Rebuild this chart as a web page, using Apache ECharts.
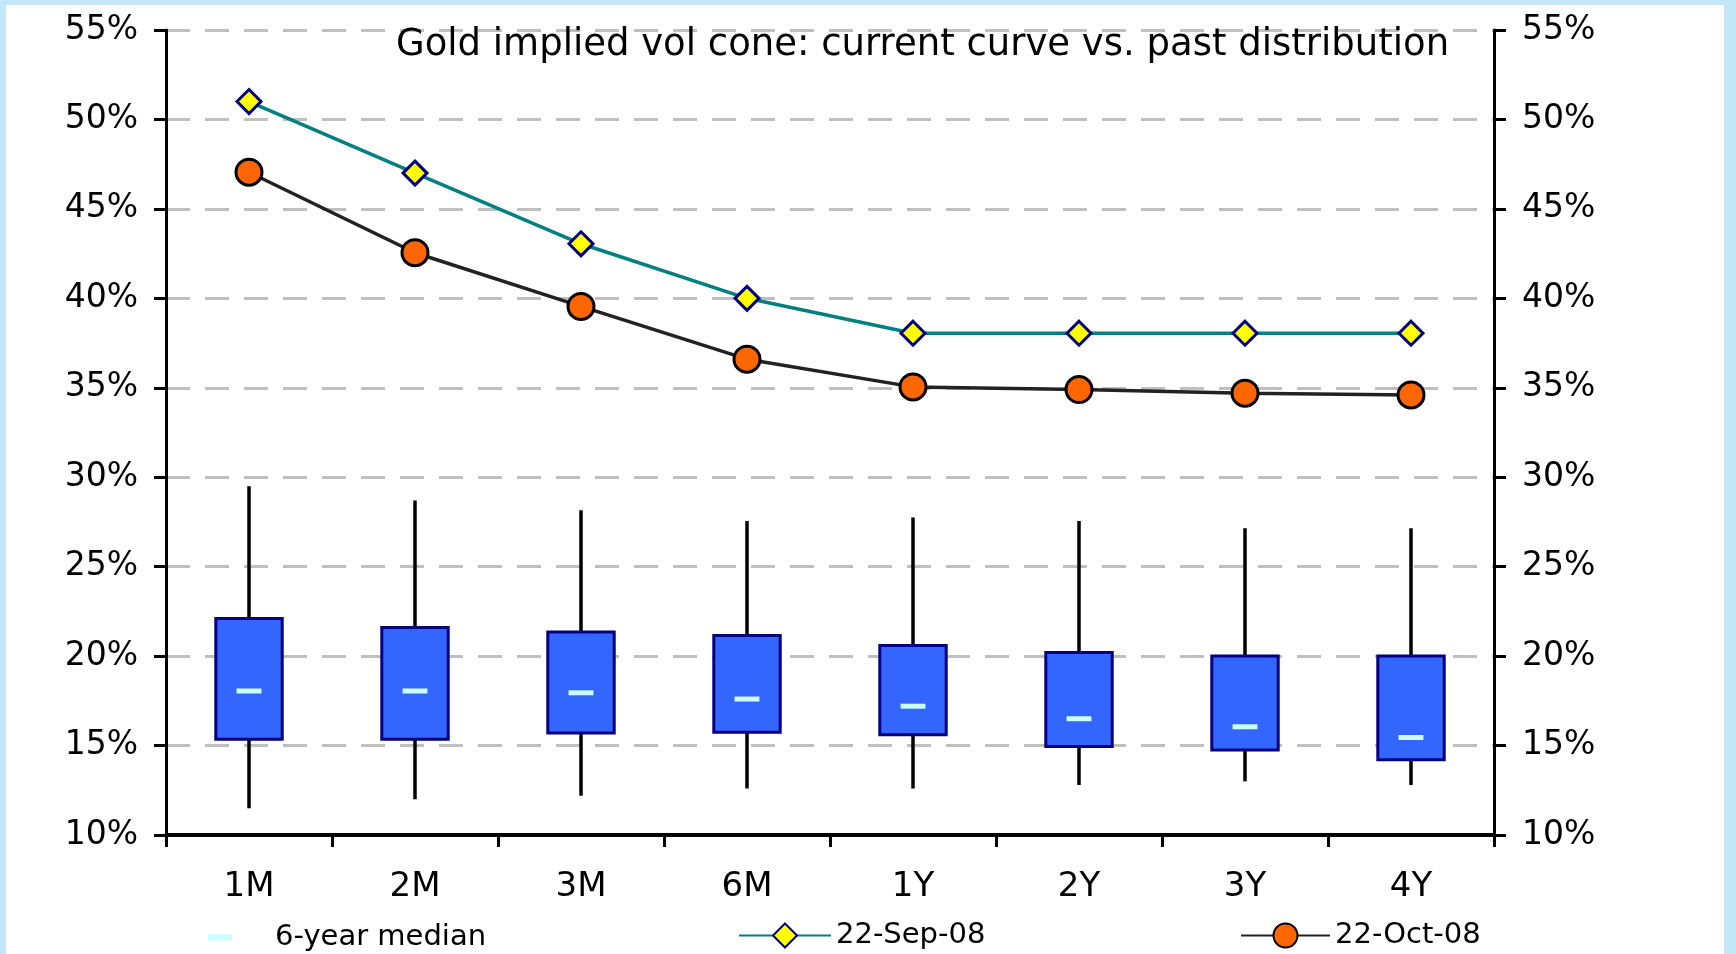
<!DOCTYPE html>
<html>
<head>
<meta charset="utf-8">
<script src="https://cdn.jsdelivr.net/npm/echarts@6/dist/echarts.min.js"></script>
<style>
html,body{margin:0;padding:0;width:1736px;height:954px;background:#C2E8F8;overflow:hidden;}
#chart{position:absolute;left:6px;top:5px;width:1718px;height:949px;background:#ffffff;}
</style>
</head>
<body>
<div id="chart"></div>
<script>
// ---- data ----
const tenors = ['1M','2M','3M','6M','1Y','2Y','3Y','4Y'];
const distMin    = [11.5, 12.0, 12.2, 12.6, 12.6, 12.8, 13.0, 12.8];
const distQ1     = [15.35, 15.35, 15.7, 15.75, 15.6, 14.95, 14.75, 14.2];
const distMedian = [18.05, 18.05, 17.95, 17.6, 17.2, 16.5, 16.05, 15.45];
const distQ3     = [22.1, 21.6, 21.35, 21.15, 20.6, 20.2, 20.0, 20.0];
const distMax    = [29.5, 28.7, 28.15, 27.55, 27.75, 27.55, 27.15, 27.15];
const sep08 = [51.0, 47.0, 43.05, 40.0, 38.05, 38.05, 38.05, 38.05];
const oct08 = [47.05, 42.55, 39.55, 36.6, 35.05, 34.9, 34.7, 34.6];
const yTicks = { min: 10, max: 55, step: 5 };
const titleText = 'Gold implied vol cone: current curve vs. past distribution';
const legendNames = ['6-year median', '22-Sep-08', '22-Oct-08'];

const FONT = 'DejaVu Sans';
const boxData = tenors.map((t, i) => [i, distMin[i], distQ1[i], distMedian[i], distQ3[i], distMax[i]]);

function renderBox(params, api) {
  const x = api.value(0);
  const pMin = api.coord([x, api.value(1)]);
  const pQ1 = api.coord([x, api.value(2)]);
  const pMed = api.coord([x, api.value(3)]);
  const pQ3 = api.coord([x, api.value(4)]);
  const pMax = api.coord([x, api.value(5)]);
  const band = api.size([1, 0])[0];
  const bw = band * 0.4;
  const mw = band * 0.15;
  return {
    type: 'group',
    children: [
      { type: 'line', shape: { x1: pMin[0], y1: pMin[1], x2: pMax[0], y2: pMax[1] }, style: { stroke: '#000', lineWidth: 3.5 } },
      { type: 'rect', shape: { x: pQ3[0] - bw / 2, y: pQ3[1], width: bw, height: pQ1[1] - pQ3[1] }, style: { fill: '#3366FF', stroke: '#000080', lineWidth: 3 } },
      { type: 'rect', shape: { x: pMed[0] - mw / 2, y: pMed[1] - 2.5, width: mw, height: 5 }, style: { fill: '#CCFFFF' } }
    ]
  };
}

const axisLabelStyle = { color: '#000', fontFamily: FONT, fontSize: 33 };
const legendText = { color: '#000', fontFamily: FONT, fontSize: 29 };
const chart = echarts.init(document.getElementById('chart'), null, { renderer: 'canvas' });
chart.setOption({
  animation: false,
  backgroundColor: '#ffffff',
  title: {
    text: titleText, left: 385, top: 17,
    textStyle: { color: '#000', fontFamily: FONT, fontSize: 37, fontWeight: 'normal' }
  },
  legend: [
    { data: [{ name: legendNames[0], icon: 'rect' }], left: 197, top: 913, itemWidth: 24, itemHeight: 6, itemGap: 0,
      textStyle: Object.assign({ padding: [0, 0, 0, 38] }, legendText) },
    { data: [legendNames[1]], left: 727, top: 911, itemWidth: 92, itemHeight: 30,
      textStyle: legendText },
    { data: [legendNames[2]], left: 1229, top: 911, itemWidth: 89, itemHeight: 30,
      textStyle: legendText }
  ],
  grid: { left: 160, right: 230, top: 25, bottom: 119, containLabel: false },
  xAxis: {
    type: 'category', data: tenors, boundaryGap: true,
    axisLine: { lineStyle: { color: '#000', width: 4 } },
    axisTick: { show: true, length: 12, lineStyle: { color: '#000', width: 3 } },
    axisLabel: Object.assign({ margin: 35 }, axisLabelStyle, { fontSize: 34 }),
    splitLine: { show: false }
  },
  yAxis: [
    { type: 'value', min: yTicks.min, max: yTicks.max, interval: yTicks.step, position: 'left',
      axisLine: { show: true, lineStyle: { color: '#000', width: 3 } },
      axisTick: { show: true, length: 12, lineStyle: { color: '#000', width: 3 } },
      axisLabel: Object.assign({ margin: 28, formatter: '{value}%' }, axisLabelStyle),
      splitLine: { show: true, lineStyle: { color: '#C0C0C0', width: 3, type: [24, 15] } } },
    { type: 'value', min: yTicks.min, max: yTicks.max, interval: yTicks.step, position: 'right',
      axisLine: { show: true, lineStyle: { color: '#000', width: 3 } },
      axisTick: { show: true, length: 12, lineStyle: { color: '#000', width: 3 } },
      axisLabel: Object.assign({ margin: 28, formatter: '{value}%' }, axisLabelStyle),
      splitLine: { show: false } }
  ],
  series: [
    { name: legendNames[0], type: 'custom', renderItem: renderBox, data: boxData,
      encode: { x: 0, y: [1, 2, 3, 4, 5] }, itemStyle: { color: '#CCFFFF' }, z: 2 },
    { name: legendNames[1], type: 'line', data: sep08, symbol: 'diamond', symbolSize: 24,
      lineStyle: { color: '#008080', width: 3.5 },
      itemStyle: { color: '#FFFF00', borderColor: '#000080', borderWidth: 3 }, z: 4 },
    { name: legendNames[2], type: 'line', data: oct08, symbol: 'circle', symbolSize: 26,
      lineStyle: { color: '#222222', width: 3.5 },
      itemStyle: { color: '#FF6600', borderColor: '#000000', borderWidth: 3 }, z: 3 }
  ]
});
</script>
</body>
</html>
